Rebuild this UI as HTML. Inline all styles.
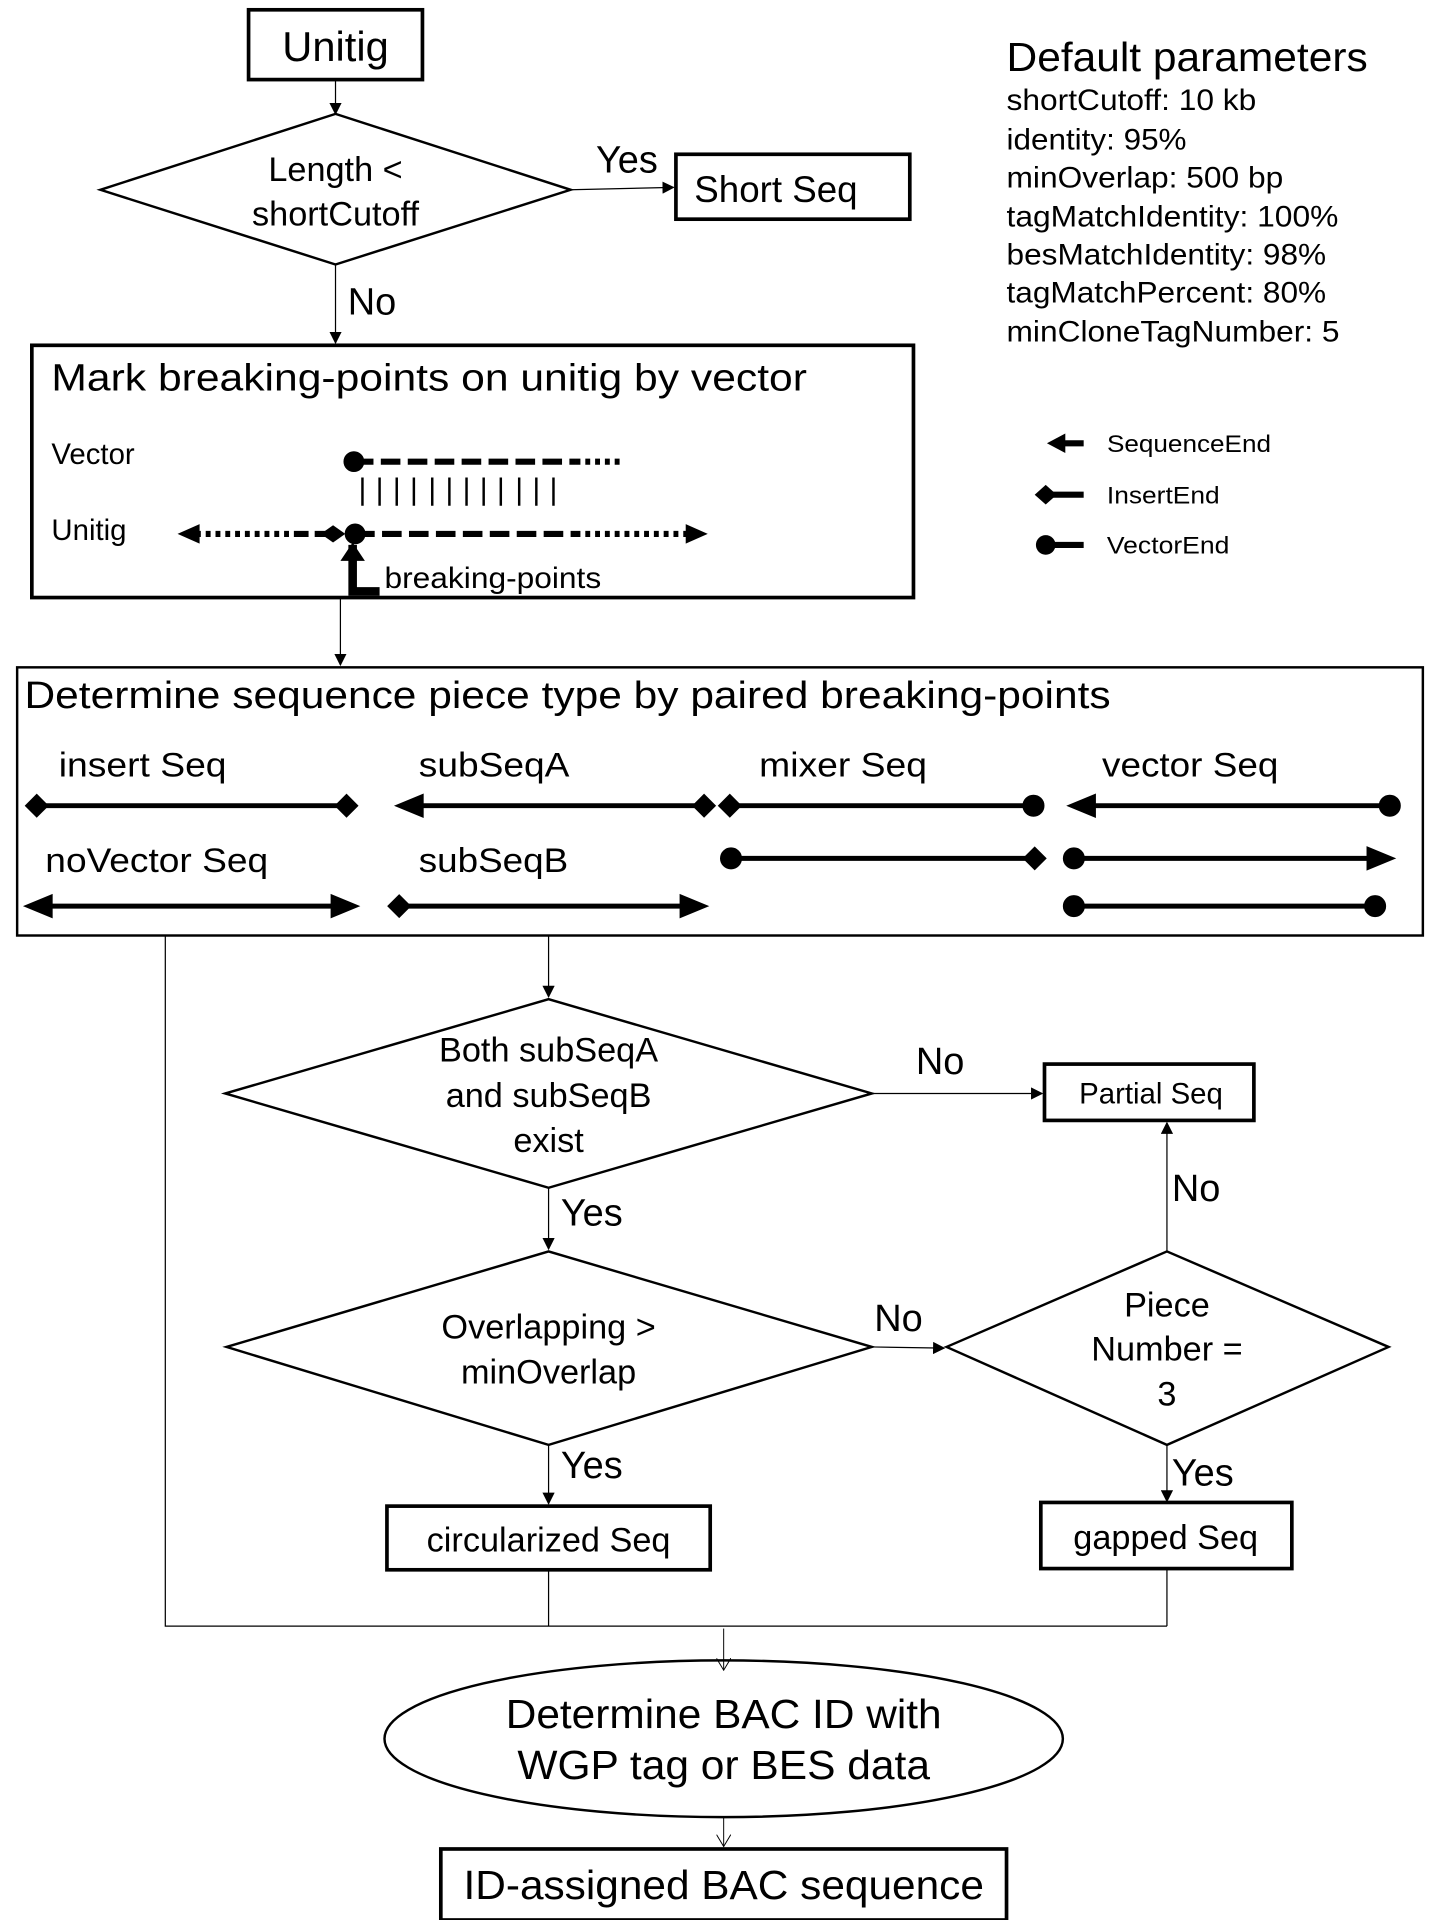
<!DOCTYPE html>
<html><head><meta charset="utf-8"><style>html,body{margin:0;padding:0;background:#fff}svg{display:block}text{font-family:"Liberation Sans",Arial,sans-serif;fill:#000}</style></head>
<body>
<svg width="1440" height="1920" viewBox="0 0 1176 1568" xmlns="http://www.w3.org/2000/svg">
<defs>
<marker id="a" markerWidth="10" markerHeight="10" refX="9" refY="5" orient="auto" markerUnits="userSpaceOnUse"><path d="M0,0 L10,5 L0,10 z"/></marker>
<marker id="o" markerWidth="12" markerHeight="12" refX="10" refY="6" orient="auto" markerUnits="userSpaceOnUse"><path d="M0,0 L10,6 L0,12" fill="none" stroke="#000" stroke-width="0.8"/></marker>
</defs>
<g fill="none" stroke="#000">
<rect x="203" y="8" width="142" height="57" stroke-width="3"/>
<path d="M274 65 V93" stroke-width="1" marker-end="url(#a)"/>
<path d="M82 155 L274 93 L466 155 L274 216 Z" stroke-width="2"/>
<path d="M466 155 L550 153" stroke-width="1" marker-end="url(#a)"/>
<rect x="552" y="126" width="191" height="53" stroke-width="3"/>
<path d="M274 216 V280" stroke-width="1" marker-end="url(#a)"/>
<rect x="26" y="282" width="720" height="206" stroke-width="3"/>
<rect x="14" y="545" width="1148" height="219" stroke-width="2"/>
<path d="M278 488 L278 543" stroke-width="1" marker-end="url(#a)"/>
</g>
<text x="274" y="50" font-size="34" text-anchor="middle">Unitig</text>
<text x="274" y="148" font-size="28" text-anchor="middle">Length &lt;</text>
<text x="274" y="184" font-size="28" text-anchor="middle">shortCutoff</text>
<text x="512" y="141" font-size="31" text-anchor="middle">Yes</text>
<text x="567" y="165" font-size="30">Short Seq</text>
<text x="284" y="257" font-size="31">No</text>
<text x="42" y="319" font-size="31" textLength="617" lengthAdjust="spacingAndGlyphs">Mark breaking-points on unitig by vector</text>
<text x="42" y="379" font-size="24">Vector</text>
<text x="42" y="441" font-size="24">Unitig</text>
<g stroke="#000" fill="#000">
<circle cx="289" cy="377" r="8"/>
<path d="M289 377 H470" stroke-width="5" stroke-dasharray="16,6"/>
<path d="M470 377 H510" stroke-width="5" stroke-dasharray="4,4"/>
<path d="M296 390 V413 M310 390 V413 M324 390 V413 M338 390 V413 M353 390 V413 M367 390 V413 M381 390 V413 M395 390 V413 M409 390 V413 M424 390 V413 M438 390 V413 M452 390 V413" stroke-width="2"/>
<path d="M160 436 H240" stroke-width="5" stroke-dasharray="4,4"/>
<path d="M240 436 H268" stroke-width="5" stroke-dasharray="12,5"/>
<path d="M145 436 L163 428 L163 444 Z" stroke="none"/>
<path d="M262 436 L272 429 L282 436 L272 443 Z" stroke="none"/>
<circle cx="290" cy="436" r="8"/>
<path d="M290 436 H470" stroke-width="5" stroke-dasharray="16,6"/>
<path d="M470 436 H562" stroke-width="5" stroke-dasharray="4,4"/>
<path d="M578 436 L560 428 L560 444 Z" stroke="none"/>
<path d="M288 445 V483 H310" stroke-width="7" fill="none"/>
<path d="M288 443 L278 458 L298 458 Z" stroke="none"/>
</g>
<text x="314" y="480" font-size="24" textLength="177" lengthAdjust="spacingAndGlyphs">breaking-points</text>
<g stroke="#000" fill="#000">
<path d="M866 362 H885" stroke-width="5"/><path d="M855 362 L870 354 L870 370 Z" stroke="none"/>
<path d="M855 404 H885" stroke-width="5"/><path d="M845 404 L854 396 L863 404 L854 412 Z" stroke="none"/>
<path d="M855 445 H885" stroke-width="5"/><circle cx="854" cy="445" r="8" stroke="none"/>
</g>
<text x="904" y="369" font-size="20" textLength="134" lengthAdjust="spacingAndGlyphs">SequenceEnd</text>
<text x="904" y="411" font-size="20" textLength="92" lengthAdjust="spacingAndGlyphs">InsertEnd</text>
<text x="904" y="452" font-size="20" textLength="100" lengthAdjust="spacingAndGlyphs">VectorEnd</text>
<text x="822" y="58" font-size="33" textLength="295" lengthAdjust="spacingAndGlyphs">Default parameters</text>
<g font-size="24">
<text x="822" y="90" textLength="204" lengthAdjust="spacingAndGlyphs">shortCutoff: 10 kb</text>
<text x="822" y="122" textLength="147" lengthAdjust="spacingAndGlyphs">identity: 95%</text>
<text x="822" y="153" textLength="226" lengthAdjust="spacingAndGlyphs">minOverlap: 500 bp</text>
<text x="822" y="185" textLength="271" lengthAdjust="spacingAndGlyphs">tagMatchIdentity: 100%</text>
<text x="822" y="216" textLength="261" lengthAdjust="spacingAndGlyphs">besMatchIdentity: 98%</text>
<text x="822" y="247" textLength="261" lengthAdjust="spacingAndGlyphs">tagMatchPercent: 80%</text>
<text x="822" y="279" textLength="272" lengthAdjust="spacingAndGlyphs">minCloneTagNumber: 5</text>
</g>
<text x="20" y="578" font-size="31" textLength="887" lengthAdjust="spacingAndGlyphs">Determine sequence piece type by paired breaking-points</text>
<g font-size="28">
<text x="48" y="634" textLength="137" lengthAdjust="spacingAndGlyphs">insert Seq</text>
<text x="342" y="634" textLength="123" lengthAdjust="spacingAndGlyphs">subSeqA</text>
<text x="620" y="634" textLength="137" lengthAdjust="spacingAndGlyphs">mixer Seq</text>
<text x="900" y="634" textLength="144" lengthAdjust="spacingAndGlyphs">vector Seq</text>
<text x="37" y="712" textLength="182" lengthAdjust="spacingAndGlyphs">noVector Seq</text>
<text x="342" y="712" textLength="122" lengthAdjust="spacingAndGlyphs">subSeqB</text>
</g>
<g stroke="#000" fill="#000" stroke-width="4">
<path d="M30 658 H282"/><path d="M23 658 L30 651 L37 658 L30 665 Z"/><path d="M276 658 L283 651 L290 658 L283 665 Z"/>
<path d="M340 658 H575"/><path d="M327 658 L344 651 L344 665 Z"/><path d="M568 658 L575 651 L582 658 L575 665 Z"/>
<path d="M596 658 H843"/><path d="M589 658 L596 651 L603 658 L596 665 Z"/><circle cx="844" cy="658" r="7"/>
<path d="M890 658 H1134"/><path d="M876 658 L893 651 L893 665 Z"/><circle cx="1135" cy="658" r="7"/>
<path d="M598 701 H844"/><circle cx="597" cy="701" r="7"/><path d="M838 701 L845 694 L852 701 L845 708 Z"/>
<path d="M877 701 H1120"/><circle cx="877" cy="701" r="7"/><path d="M1135 701 L1118 694 L1118 708 Z"/>
<path d="M38 740 H275"/><path d="M24 740 L41 733 L41 747 Z"/><path d="M289 740 L272 733 L272 747 Z"/>
<path d="M326 740 H560"/><path d="M319 740 L326 733 L333 740 L326 747 Z"/><path d="M574 740 L557 733 L557 747 Z"/>
<path d="M877 740 H1123"/><circle cx="877" cy="740" r="7"/><circle cx="1123" cy="740" r="7"/>
</g>
<g fill="none" stroke="#000">
<path d="M135 764 V1328 H953" stroke-width="1"/>
<path d="M448 764 V814" stroke-width="1" marker-end="url(#a)"/>
<path d="M184 893 L448 816 L712 893 L448 970 Z" stroke-width="2"/>
<path d="M712 893 H851" stroke-width="1" marker-end="url(#a)"/>
<rect x="853" y="869" width="171" height="46" stroke-width="3"/>
<path d="M448 970 V1020" stroke-width="1" marker-end="url(#a)"/>
<path d="M185 1100 L448 1022 L712 1100 L448 1180 Z" stroke-width="2"/>
<path d="M712 1100 L771 1101" stroke-width="1" marker-end="url(#a)"/>
<path d="M773 1100 L953 1022 L1134 1100 L953 1180 Z" stroke-width="2"/>
<path d="M953 1022 V917" stroke-width="1" marker-end="url(#a)"/>
<path d="M953 1180 V1226" stroke-width="1" marker-end="url(#a)"/>
<path d="M448 1180 V1228" stroke-width="1" marker-end="url(#a)"/>
<rect x="316" y="1230" width="264" height="52" stroke-width="3"/>
<rect x="850" y="1227" width="205" height="54" stroke-width="3"/>
<path d="M448 1282 V1328 M953 1281 V1328" stroke-width="1"/>
<path d="M591 1330 V1364" stroke-width="0.8" marker-end="url(#o)"/>
<ellipse cx="591" cy="1420" rx="277" ry="64" stroke-width="2"/>
<path d="M591 1484 V1508" stroke-width="0.8" marker-end="url(#o)"/>
<rect x="360" y="1510" width="462" height="58" stroke-width="3"/>
</g>
<g font-size="28" text-anchor="middle">
<text x="448" y="867">Both subSeqA</text>
<text x="448" y="904">and subSeqB</text>
<text x="448" y="941">exist</text>
<text x="448" y="1093">Overlapping &gt;</text>
<text x="448" y="1130">minOverlap</text>
<text x="953" y="1075">Piece</text>
<text x="953" y="1111">Number =</text>
<text x="953" y="1148">3</text>
<text x="448" y="1267">circularized Seq</text>
<text x="952" y="1265">gapped Seq</text>
</g>
<text x="940" y="901" font-size="24" text-anchor="middle">Partial Seq</text>
<g font-size="31">
<text x="748" y="877">No</text>
<text x="458" y="1001">Yes</text>
<text x="714" y="1087">No</text>
<text x="957" y="981">No</text>
<text x="957" y="1213">Yes</text>
<text x="458" y="1207">Yes</text>
</g>
<g font-size="33" text-anchor="middle">
<text x="591" y="1411" textLength="356" lengthAdjust="spacingAndGlyphs">Determine BAC ID with</text>
<text x="591" y="1453" textLength="337" lengthAdjust="spacingAndGlyphs">WGP tag or BES data</text>
<text x="591" y="1551" textLength="425" lengthAdjust="spacingAndGlyphs">ID-assigned BAC sequence</text>
</g>
</svg>
</body></html>
